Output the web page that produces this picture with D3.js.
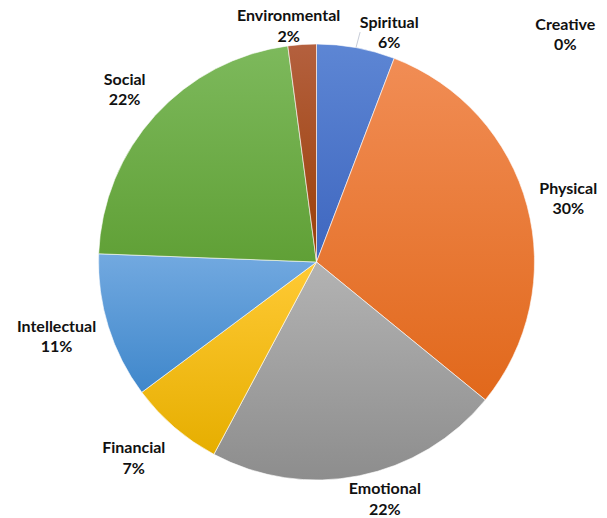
<!DOCTYPE html>
<html>
<head>
<meta charset="utf-8">
<script src="https://cdn.jsdelivr.net/npm/d3@7"></script>
<style>
  body { margin: 0; background: #fff; }
  text { font-family: Lato, "Open Sans", sans-serif; font-weight: 700; fill: #111; }
</style>
</head>
<body>
<svg id="chart"></svg>
<script>
// data, clockwise from 12 o'clock
const categories = ['Spiritual', 'Creative', 'Physical', 'Emotional', 'Financial', 'Intellectual', 'Social', 'Environmental'];
const percents = [5.8, 0, 30.1, 21.9, 7.0, 10.8, 22.3, 2.1];
const topColors = ['#5d86d4', '#ffffff', '#f18d55', '#b3b3b3', '#ffca35', '#72a9e0', '#7db95c', '#b4603e'];
const bottomColors = ['#3e66bf', '#ffffff', '#e1681b', '#8d8d8d', '#e6ae00', '#3f87cb', '#60a036', '#9a3f07'];

// label placement: [angle deg from 12 o'clock, distance from centre]
const labelPolar = [[17.5, 242], [47.4, 338], [75.5, 260], [163.8, 245], [223.2, 267], [254.3, 270], [312.2, 259], [-6.7, 239]];

const width = 607, height = 518;
const cx = 316.5, cy = 262, radius = 218;

const data = categories.map((c, i) => ({name: c, value: percents[i], i: i}));

const svg = d3.select('#chart')
    .attr('width', width)
    .attr('height', height);

const defs = svg.append('defs');
data.forEach(d => {
  const g = defs.append('linearGradient')
      .attr('id', 'grad' + d.i)
      .attr('x1', 0).attr('y1', 0).attr('x2', 0).attr('y2', 1);
  g.append('stop').attr('offset', '0%').attr('stop-color', topColors[d.i]);
  g.append('stop').attr('offset', '100%').attr('stop-color', bottomColors[d.i]);
});

const pie = d3.pie()
    .sort(null)
    .value(d => d.value);

const arc = d3.arc()
    .innerRadius(0)
    .outerRadius(radius);

const g = svg.append('g')
    .attr('transform', 'translate(' + cx + ',' + cy + ')');

const arcs = pie(data);

g.selectAll('path')
  .data(arcs.filter(d => d.data.value > 0))
  .enter().append('path')
    .attr('d', arc)
    .attr('fill', d => 'url(#grad' + d.data.i + ')')
    .attr('stroke', '#fff')
    .attr('stroke-width', 0.6);

// leader line for the small Spiritual slice
const toXY = (deg, r) => [r * Math.sin(deg * Math.PI / 180), -r * Math.cos(deg * Math.PI / 180)];
const sp = arcs[0];
const spMid = (sp.startAngle + sp.endAngle) / 2 * 180 / Math.PI;
const p0 = toXY(spMid, radius);
const p1 = toXY(spMid + 0.3, radius + 16);
g.append('line')
    .attr('x1', p0[0]).attr('y1', p0[1])
    .attr('x2', p1[0]).attr('y2', p1[1])
    .attr('stroke', '#c8cdd8')
    .attr('stroke-width', 1);

const labels = g.selectAll('.lbl')
  .data(arcs)
  .enter().append('text')
    .attr('class', 'lbl')
    .attr('text-anchor', 'middle')
    .attr('font-size', 16)
    .attr('transform', d => {
      const p = toXY(labelPolar[d.data.i][0], labelPolar[d.data.i][1]);
      return 'translate(' + p[0] + ',' + p[1] + ')';
    });

labels.append('tspan')
    .attr('x', 0)
    .attr('dy', '-0.2em')
    .text(d => d.data.name);

labels.append('tspan')
    .attr('x', 0)
    .attr('dy', '1.28em')
    .text(d => d3.format('.0f')(d.data.value) + '%');
</script>
</body>
</html>
